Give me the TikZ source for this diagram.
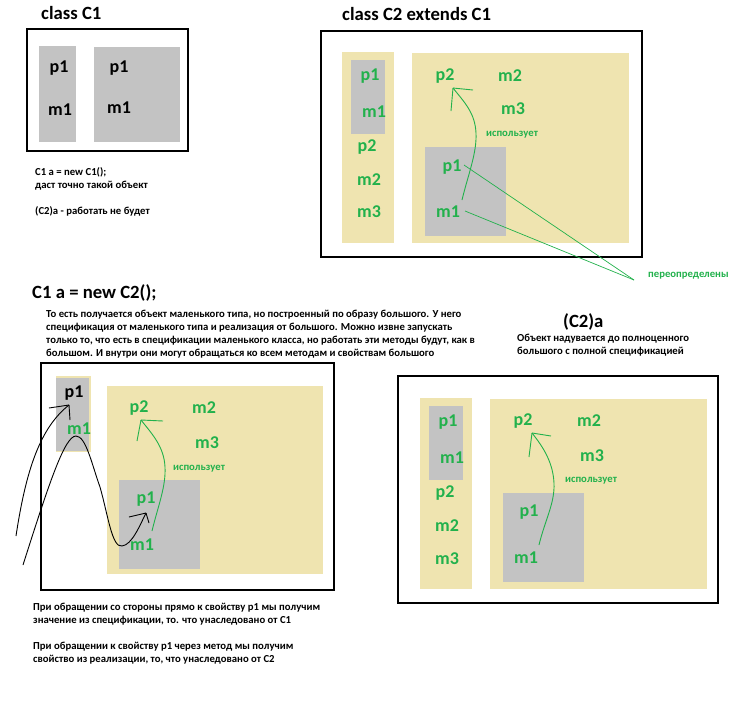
\documentclass[tikz,border=0pt]{standalone}
\usepackage{fontspec}
\setmainfont{Carlito}
\usetikzlibrary{calc}
\definecolor{specbeige}{RGB}{239,228,176}
\definecolor{implgray}{RGB}{195,195,195}
\definecolor{paintgreen}{RGB}{34,177,76}
\tikzset{
  frame/.style={draw=black,line width=1.7pt},
  spec/.style={fill=specbeige},
  impl/.style={fill=implgray},
  head/.style={font=\fontsize{18.7}{22}\selectfont\bfseries,inner sep=0pt,anchor=base west},
  member/.style={font=\fontsize{18}{20}\selectfont\bfseries,text=paintgreen,inner sep=0pt},
  note/.style={font=\fontsize{10.7}{13}\selectfont\bfseries,inner sep=0pt,anchor=base west},
  gnote/.style={font=\fontsize{10.7}{13}\selectfont\bfseries,inner sep=0pt,text=paintgreen},
  hand/.style={draw=paintgreen,line width=0.9pt},
  pen/.style={draw=black,line width=0.9pt},
}
\begin{document}
\begin{tikzpicture}[x=1pt,y=-1pt]
\useasboundingbox (0,0) rectangle (756,705);
% class C1
\node[head] (hC1) at (41,19) {class C1};
\draw[frame] (27,29) rectangle (188,151);
\fill[impl] (39,46) rectangle (76,142);
\fill[impl] (94,47) rectangle (180,142);
\node[member,text=black] (aP1) at (59,68) {p1};
\node[member,text=black] (aM1) at (60,110) {m1};
\node[member,text=black] (aP1r) at (119,68) {p1};
\node[member,text=black] (aM1r) at (119,108) {m1};
\foreach \yb/\txt [count=\i] in {175/{C1 a = new C1();},188/{даст точно такой объект},214/{(C2)a - работать не будет}}
  \node[note] (noteA\i) at (35,\yb) {\txt};
% class C2 extends C1
\node[head] (hC2) at (342,20) {class C2 extends C1};
\draw[frame] (321,31) rectangle (642,257);
\fill[spec] (342,52) rectangle (394,243);
\fill[impl] (351,60) rectangle (385,134);
\node[member] (bP1) at (370,76) {p1};
\node[member] (bM1) at (374,112) {m1};
\node[member] (bP2) at (367,147) {p2};
\node[member] (bM2) at (369,180) {m2};
\node[member] (bM3) at (369,212) {m3};
\fill[spec] (412,53) rectangle (629,243);
\node[member] (bP2r) at (445,76) {p2};
\node[member] (bM2r) at (510,76) {m2};
\node[member] (bM3r) at (513,109) {m3};
\node[gnote] (bUses) at (512,135) {использует};
\fill[impl] (425,147) rectangle (506,236);
\node[member] (bP1i) at (452,167) {p1};
\node[member] (bM1i) at (448,212) {m1};
\draw[hand] ($(bM1i)+(14,-12)$) .. controls +(6,-25) and +(1,20) .. ($(bM1i)+(28,-79)$)
  .. controls +(-1,-20) and +(12,15) .. ($(bP2r)+(8,12)$) coordinate (tipB);
\draw[hand] (tipB) -- ++(20,2);
\draw[hand] (tipB) -- ++(-2,23);
\coordinate (ovr) at (634,280);
\draw[hand,line width=0.7pt] ($(bP1i)+(12,-2)$) -- (ovr);
\draw[hand,line width=0.7pt] ($(bM1i)+(17,-1)$) -- (ovr);
\node[gnote,anchor=west] (ovrTxt) at (648,276) {переопределены};
% C1 a = new C2();
\node[head] (hNew) at (32,298) {C1 a = new C2();};
\foreach \yb/\txt [count=\i] in {317/{То есть получается объект маленького типа, но построенный по образу большого. У него},
  330/{спецификация от маленького типа и реализация от большого. Можно извне запускать},
  343/{только то, что есть в спецификации маленького класса, но работать эти методы будут, как в},
  356/{большом. И внутри они могут обращаться ко всем методам и свойствам большого}}
  \node[note] (noteB\i) at (46,\yb) {\txt};
\draw[frame] (41,363) rectangle (334,590);
\fill[spec] (56,376) rectangle (91,452);
\fill[impl] (56,378) rectangle (89,451);
\node[member,text=black] (cP1) at (74,393) {p1};
\node[member] (cM1) at (79,429) {m1};
\fill[spec] (107,386) rectangle (323,574);
\node[member] (cP2) at (139,408) {p2};
\node[member] (cM2) at (204,408) {m2};
\node[member] (cM3) at (207,443) {m3};
\node[gnote] (cUses) at (199,469) {использует};
\fill[impl] (119,480) rectangle (200,569);
\node[member] (cP1i) at (146,499) {p1};
\node[member] (cM1i) at (142,545) {m1};
\draw[hand] ($(cM1i)+(10,-14)$) .. controls +(6,-25) and +(1,20) .. ($(cM1i)+(23,-78)$)
  .. controls +(-1,-20) and +(12,15) .. ($(cP2)+(2,12)$) coordinate (tipC);
\draw[hand] (tipC) -- ++(22,1);
\draw[hand] (tipC) -- ++(-4,21);
\coordinate (wA) at (23,565);
\coordinate (wB) at (16,536);
\draw[pen] (wA) .. controls (50,480) and (65,436) .. (76,436)
  .. controls (86,436) and (92,465) .. (100,487)
  .. controls (108,515) and (112,548) .. (122,546)
  .. controls (132,545) and (140,525) .. ($(cP1i)+(0,14)$) coordinate (tipA);
\draw[pen] (tipA) -- ++(-17,4);
\draw[pen] (tipA) -- ++(3,10);
\draw[pen] (wB) .. controls (26,470) and (40,428) .. ($(cP1)+(-5,12)$) coordinate (tipW);
\draw[pen] (tipW) -- ++(-20,3);
\draw[pen] (tipW) -- ++(1,15);
\foreach \yb/\txt [count=\i] in {610/{При обращении со стороны прямо к свойству p1 мы получим},
  623/{значение из спецификации, то. что унаследовано от C1},
  649/{При обращении к свойству p1 через метод мы получим},
  662/{свойство из реализации, то, что унаследовано от C2}}
  \node[note] (noteC\i) at (33,\yb) {\txt};
% (C2)a
\node[head] (hCast) at (563,327) {(C2)a};
\node[note] (noteD1) at (517,341) {Объект надувается до полноценного};
\node[note] (noteD2) at (517,354) {большого с полной спецификацией};
\draw[frame] (398,376) rectangle (718,603);
\fill[spec] (420,398) rectangle (472,589);
\fill[impl] (429,406) rectangle (463,480);
\node[member] (dP1) at (448,422) {p1};
\node[member] (dM1) at (452,458) {m1};
\node[member] (dP2) at (445,493) {p2};
\node[member] (dM2) at (447,526) {m2};
\node[member] (dM3) at (447,559) {m3};
\fill[spec] (490,399) rectangle (707,589);
\node[member] (dP2r) at (523,421) {p2};
\node[member] (dM2r) at (589,421) {m2};
\node[member] (dM3r) at (592,456) {m3};
\node[gnote] (dUses) at (591,481) {использует};
\fill[impl] (503,493) rectangle (584,582);
\node[member] (dP1i) at (529,512) {p1};
\node[member] (dM1i) at (526,558) {m1};
\draw[hand] ($(dM1i)+(13,-13)$) .. controls +(6,-25) and +(1,20) .. ($(dM1i)+(28,-75)$)
  .. controls +(-1,-20) and +(12,15) .. ($(dP2r)+(9,12)$) coordinate (tipD);
\draw[hand] (tipD) -- ++(19,3);
\draw[hand] (tipD) -- ++(-3,24);
\end{tikzpicture}
\end{document}
